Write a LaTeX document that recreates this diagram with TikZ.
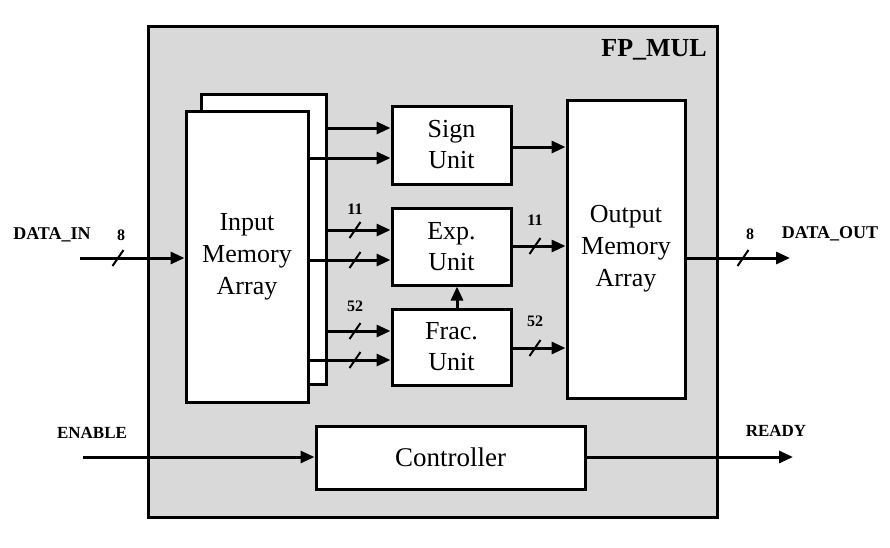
\documentclass[tikz,border=0pt]{standalone}
\usepackage{fontspec}
\setmainfont{Liberation Serif}
\usetikzlibrary{arrows.meta}
\begin{document}
\begin{tikzpicture}[x=1pt,y=-1pt,
  blk/.style={draw, fill=white, line width=3pt, inner sep=0pt, align=center,
    font=\fontsize{26}{32}\selectfont},
  arr/.style={line width=3pt, -{Triangle[length=14pt,width=12pt]}},
  slash/.style={line width=2pt},
  lbl/.style={font=\fontsize{18}{20}\selectfont\bfseries, inner sep=0pt},
  num/.style={font=\fontsize{16}{18}\selectfont\bfseries, inner sep=0pt}]
\useasboundingbox (0,0) rectangle (890,547);
% outer module
\node[draw, fill=gray!30, line width=3pt, minimum width=569pt, minimum height=491pt, inner sep=0pt] (mod) at (432.5,271.5) {};
\node[font=\fontsize{26}{28}\selectfont\bfseries, anchor=east, inner sep=0pt] (title) at (707,50) {FP\_MUL};
% blocks
\node[blk, minimum width=125pt, minimum height=290pt] (inback) at (263.5,239) {};
\node[blk, minimum width=122pt, minimum height=291pt] (infront) at (247,256.5) {Input\\Memory\\Array};
\node[blk, minimum width=119pt, minimum height=78pt, font=\fontsize{26}{31}\selectfont] (sign) at (451.5,145) {Sign\\Unit};
\node[blk, minimum width=119pt, minimum height=77pt, font=\fontsize{26}{31}\selectfont] (exp) at (451.5,246.5) {Exp.\\Unit};
\node[blk, minimum width=119pt, minimum height=76pt, font=\fontsize{26}{31}\selectfont] (frac) at (451.5,347) {Frac.\\Unit};
\node[blk, minimum width=118pt, minimum height=298pt] (outmem) at (626,249) {Output\\Memory\\Array};
\node[blk, minimum width=269pt, minimum height=63pt, font=\fontsize{27}{30}\selectfont] (ctrl) at (450.5,457.5) {Controller};
% free ends
\coordinate (din) at (80,258);
\coordinate (dout) at (790,258);
\coordinate (en) at (83,457);
\coordinate (rdy) at (793,457);
% connectors
\draw[arr] (din) -- (infront.west |- din);
\draw[arr] (outmem.east |- dout) -- (dout);
\draw[arr] (en) -- (ctrl.west |- en);
\draw[arr] (ctrl.east |- rdy) -- (rdy);
\draw[arr] (inback.east |- 0,128) -- (sign.west |- 0,128);
\draw[arr] (infront.east |- 0,158) -- (sign.west |- 0,158);
\draw[arr] (inback.east |- 0,230) -- (exp.west |- 0,230);
\draw[arr] (infront.east |- 0,260) -- (exp.west |- 0,260);
\draw[arr] (inback.east |- 0,331) -- (frac.west |- 0,331);
\draw[arr] (infront.east |- 0,360) -- (frac.west |- 0,360);
\draw[arr] (sign.east |- 0,147) -- (outmem.west |- 0,147);
\draw[arr] (exp.east |- 0,246) -- (outmem.west |- 0,246);
\draw[arr] (frac.east |- 0,348) -- (outmem.west |- 0,348);
\draw[arr] (frac.north -| 457,0) -- (exp.south -| 457,0);
% bus slashes
\foreach \x/\y in {118/258, 743/258, 355/230, 355/260, 355/331, 355/360, 535/246, 535/348}
  \draw[slash] (\x-5.5,\y+8) -- (\x+5.5,\y-8);
% labels
\node[lbl] (ldin) at (52,235) {DATA\_IN};
\node[num] (n1) at (121,235) {8};
\node[lbl] (ldout) at (830,234) {DATA\_OUT};
\node[num] (n2) at (750,234) {8};
\node[lbl, font=\fontsize{17}{20}\selectfont\bfseries] (len) at (92,433) {ENABLE};
\node[lbl, font=\fontsize{17}{20}\selectfont\bfseries] (lrdy) at (776,431) {READY};
\node[num] (n3) at (355,209) {11};
\node[num] (n4) at (355,306) {52};
\node[num] (n5) at (535,220) {11};
\node[num] (n6) at (535,321) {52};
\end{tikzpicture}
\end{document}
